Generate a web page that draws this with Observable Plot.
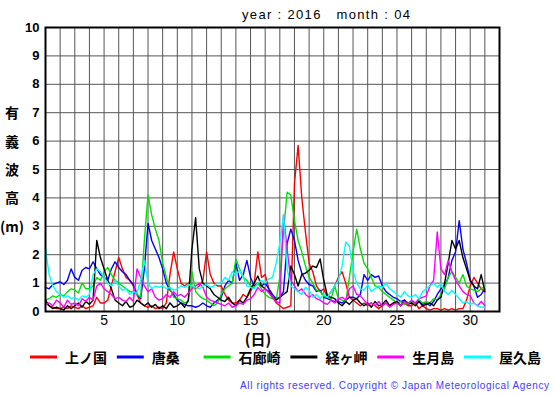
<!DOCTYPE html>
<html><head><meta charset="utf-8">
<script src="https://cdn.jsdelivr.net/npm/d3@7"></script>
<script src="https://cdn.jsdelivr.net/npm/@observablehq/plot@0.6"></script>
<style>
html,body{margin:0;padding:0;background:#fff;}
#chart{width:555px;height:395px;}
</style></head><body><div id="chart"></div>
<script>
// Stations and colours
const stations = ["上ノ国","唐桑","石廊崎","経ヶ岬","生月島","屋久島"];
const colors = ["#ff0000","#0000ff","#00e000","#000000","#ff00ff","#00ffff"];
// Sampling every 6 hours from April 1 00h to May 1 00h (day 1.0 ... 31.0)
const days = d3.range(121).map(i => 1 + i / 4);
const xTicks = [5,10,15,20,25,30];
const yTicks = [0,1,2,3,4,5,6,7,8,9,10];
const yTitle = ["有","義","波","高","(m)"];

// Significant wave height (m), 4 samples per day
const kaminokuni = [
 0.3,0.2,0.15,0.1, 0.1,0.15,0.1,0.2, 0.15,0.1,0.2,0.1, 0.15,0.2,0.5,0.3, 0.3,0.4,0.9,1.4,
 1.9,1.5,1.2,1.1, 0.9,0.6,0.3,0.2, 0.15,0.2,0.1,0.15, 0.1,0.3,1.3,2.1, 1.5,1.0,0.9,1.0,
 0.9,0.8,0.9,1.1, 2.1,1.3,1.0,0.9, 0.9,0.6,0.4,0.3, 0.3,0.4,0.6,0.5, 0.7,1.0,2.1,1.2,
 1.3,0.8,0.5,0.3, 0.2,0.1,0.15,0.2, 4.5,5.85,4.0,2.8, 1.7,1.4,0.9,0.7, 0.8,0.5,0.7,0.9,
 1.2,1.4,1.0,0.5, 0.4,0.3,0.2,0.3, 0.2,0.3,0.2,0.1, 0.2,0.3,0.2,0.3, 0.3,0.2,0.3,0.2,
 0.2,0.3,0.1,0.2, 0.1,0.05,0.1,0.1, 0.05,0.1,0.05,0.1, 0.05,0.1,0.1,0.4, 0.9,1.2,1.0,0.8,
 0.7];
const karakuwa = [
 0.85,0.8,0.95,1.0, 1.05,0.95,1.1,1.5, 1.2,1.1,1.45,1.55, 1.5,1.75,1.5,1.3, 1.2,1.1,1.5,1.75,
 1.55,1.4,1.3,1.1, 0.95,0.6,0.45,1.5, 3.1,2.5,2.2,1.9, 1.5,1.0,0.75,0.6, 0.4,0.3,0.25,0.2,
 0.2,0.15,0.2,0.3, 0.2,0.15,0.3,0.4, 0.5,0.9,1.1,1.0, 1.7,1.1,1.3,1.8, 1.2,0.9,1.0,0.9,
 1.0,0.8,0.6,0.45, 0.5,0.7,2.4,2.9, 2.5,1.8,1.35,1.1, 0.95,0.9,0.7,0.75, 0.5,0.45,0.4,0.35,
 0.35,0.3,0.4,0.5, 0.5,0.45,0.6,1.3, 1.1,1.3,1.2,1.25, 0.9,0.7,0.6,0.5, 0.45,0.35,0.4,0.3,
 0.35,0.3,0.4,0.25, 0.3,0.2,0.35,0.6, 0.8,0.9,1.2,1.8, 2.1,3.2,2.2,1.7, 1.1,0.9,0.5,0.6,
 0.8];
const irozaki = [
 0.4,0.45,0.55,0.5, 0.6,0.55,0.7,0.8, 0.75,0.65,1.0,0.8, 0.8,0.9,1.2,1.1, 1.4,1.55,1.3,1.1,
 1.0,0.9,0.8,0.7, 0.7,0.6,0.5,2.5, 4.1,3.4,2.9,2.5, 1.7,1.2,0.8,0.5, 0.45,0.4,0.3,0.35,
 1.4,0.7,0.55,0.45, 0.4,0.3,0.2,0.3, 0.6,0.8,0.9,1.0, 1.85,1.5,1.2,1.1, 0.9,0.85,1.0,0.8,
 0.6,0.5,0.45,0.4, 1.2,2.8,4.2,4.1, 3.2,2.5,2.1,1.6, 1.2,1.0,0.75,0.7, 0.55,0.5,0.45,0.9,
 0.45,0.4,0.35,1.2, 2.1,2.9,2.2,1.7, 1.5,1.2,0.9,0.85, 0.7,0.6,0.5,0.4, 0.3,0.35,0.25,0.3,
 0.35,0.3,0.4,0.3, 0.35,0.3,0.45,0.4, 0.6,0.8,1.2,1.4, 1.2,1.0,1.3,0.9, 0.8,0.75,0.7,0.8,
 0.9];
const kyogamisaki = [
 0.4,0.2,0.1,0.15, 0.1,0.05,0.2,0.1, 0.2,0.3,0.15,0.35, 0.25,0.4,2.5,1.9, 1.5,1.1,0.8,0.4,
 0.3,0.2,0.35,0.15, 0.2,0.4,0.3,0.2, 0.3,0.15,0.25,0.1, 0.2,0.1,0.3,0.15, 0.2,0.3,0.15,0.4,
 2.2,3.3,1.5,1.0, 0.9,0.8,0.6,0.5, 0.4,0.35,0.5,0.3, 0.2,0.4,0.3,0.5, 0.8,1.0,1.25,0.9,
 0.8,0.7,0.5,0.4, 0.5,0.6,0.7,1.6, 1.3,0.9,1.3,1.35, 1.45,1.6,1.55,1.85, 1.1,0.55,0.5,0.45,
 0.3,0.2,0.35,0.25, 0.4,0.45,0.3,0.2, 0.3,0.15,0.35,0.2, 0.25,0.4,0.2,0.3, 0.35,0.2,0.4,0.25,
 0.3,0.2,0.35,0.2, 0.25,0.3,0.2,0.4, 0.5,1.0,1.7,2.5, 2.2,2.5,1.9,1.5, 1.1,0.9,0.8,1.3,
 0.7];
const ikitsukishima = [
 0.25,0.3,0.2,0.4, 0.3,0.15,0.4,0.25, 0.3,0.2,0.45,0.35, 0.5,0.4,0.9,1.0, 0.8,0.7,0.6,0.45,
 0.5,0.4,0.35,0.5, 0.35,1.5,1.2,0.9, 0.7,0.8,0.5,0.4, 0.45,0.6,0.5,0.7, 0.55,0.6,0.5,0.65,
 0.8,0.9,1.0,0.85, 0.5,0.4,0.35,0.3, 0.25,0.2,0.3,0.15, 0.2,0.3,0.25,0.4, 0.45,0.6,0.85,0.7,
 0.8,0.65,0.5,0.35, 0.3,3.4,2.2,1.1, 0.9,0.7,0.8,0.6, 0.5,0.6,0.45,0.4, 0.3,0.25,0.4,0.3,
 0.45,0.5,0.4,0.8, 0.9,0.6,0.55,0.4, 0.25,0.3,0.2,0.35, 0.2,0.3,0.15,0.25, 0.3,0.2,0.35,0.25,
 0.4,0.3,0.45,0.5, 0.55,0.9,1.1,2.8, 1.5,1.3,1.8,1.4, 1.1,0.9,0.7,0.6, 0.55,0.3,0.2,0.35,
 0.2];
const yakushima = [
 2.2,1.3,0.9,0.7, 0.6,0.5,0.55,0.45, 0.5,0.4,0.55,0.5, 0.6,1.3,1.5,1.4, 1.2,1.0,0.9,1.1,
 0.9,0.75,0.8,0.6, 0.7,0.65,1.1,1.8, 1.0,0.8,0.9,0.85, 0.9,0.8,0.85,0.75, 0.8,0.9,0.85,0.95,
 0.9,0.85,0.8,0.9, 0.95,0.85,0.9,1.0, 1.0,1.2,1.1,1.4, 1.3,1.45,1.2,0.9, 0.85,0.8,1.0,1.1,
 1.0,1.15,1.2,1.7, 2.4,3.4,1.5,0.9, 0.8,0.7,0.6,0.85, 0.75,0.5,0.6,0.45, 0.6,0.5,0.7,0.9,
 1.1,1.6,2.45,2.3, 1.45,1.0,0.8,0.75, 0.95,0.7,0.8,0.9, 0.85,1.0,0.8,0.7, 0.6,0.5,0.7,0.55,
 0.5,0.6,0.45,0.7, 0.8,0.9,1.0,0.85, 1.0,0.7,0.6,0.75, 0.6,0.45,0.3,0.35, 0.25,0.3,0.2,0.15,
 0.15];

const series = [kaminokuni, karakuwa, irozaki, kyogamisaki, ikitsukishima, yakushima];
const data = [];
stations.forEach((s, i) => series[i].forEach((v, j) => data.push({station: s, day: days[j], value: v})));

const sans = "'Liberation Sans', Arial, Helvetica, sans-serif";
const cjk = "'Noto Sans CJK JP', 'Noto Sans', sans-serif";

const chart = Plot.plot({
  width: 555, height: 395,
  marginLeft: 45, marginRight: 56, marginTop: 27, marginBottom: 84,
  style: {fontFamily: sans, background: "#fff", color: "#000", overflow: "visible"},
  x: {domain: [1, 32]},
  y: {domain: [0, 10]},
  color: {domain: stations, range: colors},
  marks: [
    Plot.gridX(d3.range(2, 32), {stroke: "#555", strokeOpacity: 1, strokeWidth: 1}),
    Plot.gridY(d3.range(1, 10), {stroke: "#555", strokeOpacity: 1, strokeWidth: 1}),
    Plot.line(data, {x: "day", y: "value", z: "station", stroke: "station", strokeWidth: 1.4}),
    Plot.frame({stroke: "#000", strokeWidth: 2}),
    Plot.axisX(xTicks, {tickSize: 0, tickPadding: 4, fontSize: 14, label: null}),
    Plot.axisY(yTicks, {tickSize: 0, tickPadding: 6, fontSize: 13, fontWeight: "bold", label: null})
  ]
});
document.getElementById("chart").appendChild(chart);

const svg = d3.select(chart);
const y = chart.scale("y");

// Title
svg.append("text")
  .attr("x", 242).attr("y", 14).attr("dominant-baseline", "central")
  .attr("text-anchor", "start")
  .attr("font-family", sans).attr("font-size", 13)
  .style("white-space", "pre")
  .attr("textLength", 168).attr("lengthAdjust", "spacing")
  .text("year : 2016   month : 04");

// Vertical y-axis title aligned with ticks 7..3
yTitle.forEach((t, i) => {
  svg.append("text")
    .attr("x", 12).attr("y", y.apply(7 - i)).attr("text-anchor", "middle")
    .attr("dominant-baseline", "central")
    .attr("font-family", cjk).attr("font-size", 14).attr("font-weight", "bold")
    .text(t);
});

// x-axis unit
svg.append("text")
  .attr("x", 258).attr("y", 338).attr("text-anchor", "middle").attr("dominant-baseline", "central")
  .attr("font-family", cjk).attr("font-size", 15).attr("font-weight", "bold")
  .text("(日)");

// Legend
stations.forEach((s, i) => {
  const x0 = 30 + i * 86.8;
  svg.append("line").attr("x1", x0).attr("x2", x0 + 27).attr("y1", 357).attr("y2", 357)
    .attr("stroke", colors[i]).attr("stroke-width", 3);
  svg.append("text").attr("x", x0 + 35).attr("y", 357).attr("dominant-baseline", "central")
    .attr("text-anchor", "start")
    .attr("font-family", cjk).attr("font-size", 14).attr("font-weight", "bold")
    .text(s);
});

// Copyright
svg.append("text")
  .attr("x", 240).attr("y", 385).attr("dominant-baseline", "central")
  .attr("text-anchor", "start")
  .attr("font-family", sans).attr("font-size", 10).attr("fill", "#3c3cff")
  .attr("textLength", 309).attr("lengthAdjust", "spacing")
  .text("All rights reserved. Copyright © Japan Meteorological Agency");
</script></body></html>
